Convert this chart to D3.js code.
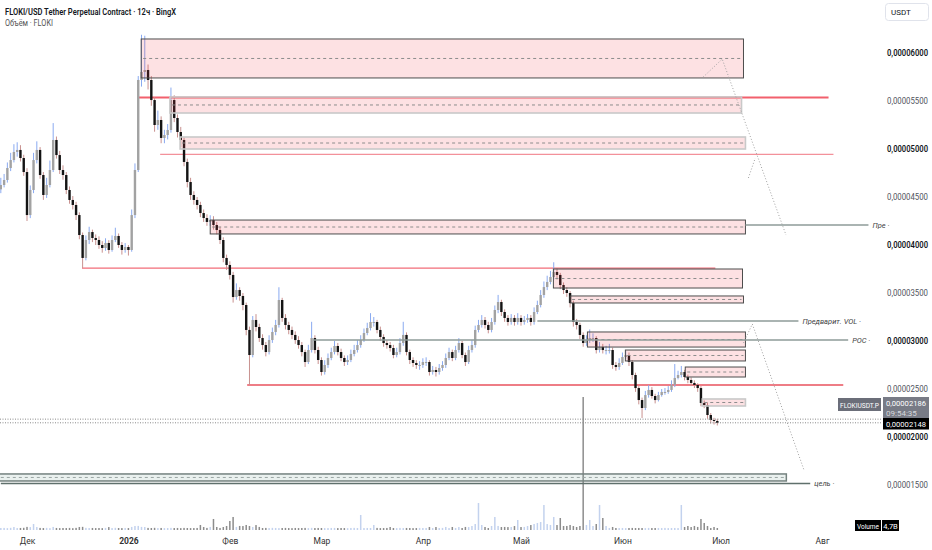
<!DOCTYPE html>
<html>
<head>
<meta charset="utf-8">
<script src="https://cdnjs.cloudflare.com/ajax/libs/d3/7.8.5/d3.min.js"></script>
<style>
  body { margin: 0; background: #fff; }
  text { font-family: Roboto, "DejaVu Sans", sans-serif; }
</style>
</head>
<body>
<div id="chart"></div>
<script>
// Define SVG area dimensions
var svgWidth = 932;
var svgHeight = 550;
var plotRight = 880;

// Daily candles starting 23 Nov 2025, prices in units of 1e-8 USDT
var firstDay = new Date(2025, 10, 23);
var firstOpen = 4580;

var closes = [
  4625,4677,4802,4885,4969,4990,4906,4760,4312,4573,
  4885,4990,4729,4521,4625,4781,5094,4937,4781,4729,
  4573,4469,4417,4312,4104,3865,4052,4135,4073,4052,
  4000,3969,4021,3948,4052,4094,4000,3948,3979,3948,
  4312,4781,5719,5802,5823,5719,5510,5250,5302,5115,
  5146,5198,5510,5323,5177,5094,4865,4656,4521,4469,
  4417,4333,4281,4240,4260,4208,4156,4052,3865,3792,
  3688,3458,3531,3469,3375,3115,2854,3219,3146,3031,
  2958,2885,3010,3094,3167,3427,3240,3167,3115,3063,
  3010,2958,2885,2781,2906,3031,2906,2802,2677,2750,
  2823,2885,2948,2885,2823,2781,2802,2865,2906,2958,
  3010,3083,3135,3198,3198,3115,3042,2979,2958,2927,
  2854,2885,2979,3063,2885,2802,2771,2750,2750,2781,
  2781,2677,2698,2677,2719,2750,2823,2885,2823,2906,
  2979,2854,2781,2906,2958,3115,3167,3219,3167,3115,
  3198,3323,3406,3302,3240,3198,3240,3198,3240,3198,
  3219,3240,3198,3302,3375,3479,3562,3615,3667,3719,
  3688,3583,3531,3500,3396,3198,3167,3063,2979,3010,
  3031,3031,2906,2938,2906,2906,2906,2750,2729,2771,
  2833,2854,2781,2646,2510,2385,2302,2437,2490,2427,
  2385,2437,2469,2469,2490,2542,2615,2646,2677,2625,
  2594,2563,2542,2510,2354,2333,2229,2177,2167,2148
];

var highs = [
  4700,4740,4860,4960,5050,5070,5040,4940,4800,4620,
  4960,5080,5020,4760,4700,4880,5270,5130,4980,4830,
  4760,4610,4510,4450,4340,4130,4100,4190,4160,4110,
  4090,4040,4070,4050,4100,4180,4120,4030,4020,4000,
  4370,4850,5760,6190,6180,5880,5760,5540,5400,5340,
  5200,5260,5640,5560,5360,5230,5120,4900,4700,4560,
  4500,4450,4370,4320,4310,4300,4240,4190,4080,3900,
  3830,3720,3600,3560,3500,3400,3150,3260,3280,3180,
  3070,2990,3060,3140,3220,3560,3450,3280,3200,3150,
  3100,3050,2990,2910,2960,3200,3060,2940,2830,2800,
  2870,2930,3000,2980,2920,2850,2850,2910,2960,3010,
  3060,3130,3190,3290,3250,3220,3150,3070,3010,2990,
  2960,2930,3030,3200,3090,2910,2830,2800,2790,2820,
  2830,2800,2740,2730,2760,2790,2870,2930,2910,2950,
  3030,3000,2880,2950,3010,3160,3220,3270,3250,3200,
  3240,3370,3480,3430,3330,3270,3280,3270,3290,3270,
  3260,3280,3270,3350,3420,3530,3620,3680,3730,3820,
  3760,3710,3610,3560,3520,3420,3230,3190,3090,3060,
  3120,3080,3050,2990,2970,2950,2970,2930,2780,2820,
  2880,2900,2880,2800,2670,2530,2410,2480,2540,2520,
  2450,2470,2500,2510,2530,2590,2760,2690,2740,2700,
  2650,2620,2590,2560,2530,2380,2360,2250,2200,2190
];

var lows = [
  4540,4600,4650,4770,4860,4920,4870,4720,4250,4280,
  4540,4850,4690,4470,4490,4600,4760,4900,4740,4680,
  4530,4430,4370,4260,4060,3760,3840,4010,4030,4000,
  3960,3920,3940,3910,3930,4030,3970,3900,3920,3890,
  3930,4280,4760,5650,5700,5620,5450,5180,5200,5060,
  5060,5100,5170,5280,5120,5020,4820,4600,4470,4420,
  4370,4290,4240,4200,4200,4160,4110,4010,3820,3740,
  3640,3400,3430,3420,3320,3060,2542,2830,3100,2990,
  2910,2840,2860,2980,3060,3140,3200,3120,3070,3020,
  2970,2920,2840,2730,2760,2880,2870,2760,2640,2650,
  2720,2800,2860,2850,2790,2740,2750,2780,2840,2880,
  2930,2990,3060,3110,3150,3080,3000,2940,2920,2890,
  2820,2830,2860,2950,2850,2760,2730,2710,2700,2720,
  2740,2640,2650,2630,2650,2690,2720,2800,2790,2800,
  2880,2820,2740,2760,2880,2930,3090,3140,3130,3080,
  3090,3170,3290,3260,3200,3160,3170,3160,3170,3160,
  3170,3190,3160,3170,3280,3350,3450,3530,3590,3640,
  3640,3540,3490,3460,3350,3150,3120,3020,2940,2950,
  2980,2990,2870,2880,2870,2860,2870,2710,2690,2700,
  2750,2810,2740,2600,2470,2340,2198,2280,2410,2400,
  2350,2370,2420,2440,2450,2470,2520,2600,2620,2590,
  2560,2530,2510,2470,2320,2300,2190,2140,2130,2120
];

// Volume in billions of FLOKI
var volumes = [
  4.7,4.9,4.4,5.1,7.0,4.6,4.8,5.2,7.3,6.8,
  14.1,7.0,4.9,4.6,5.0,4.4,7.2,4.8,4.5,4.7,
  4.6,4.9,4.3,5.0,7.1,7.4,5.0,4.6,4.8,4.5,
  4.7,4.4,4.9,6.9,4.6,5.1,4.7,4.5,4.8,4.6,
  7.2,9.4,9.6,7.3,7.0,4.9,4.7,5.1,4.6,4.8,
  4.5,4.7,5.0,4.6,4.8,4.4,4.9,4.7,4.5,4.6,
  4.8,11.8,7.0,4.9,7.2,25.9,7.1,4.8,7.0,9.4,
  21.2,30.6,7.3,9.5,9.3,11.8,9.4,7.1,11.6,7.2,
  4.7,4.9,4.6,5.0,4.8,4.5,4.7,4.9,4.6,4.4,
  4.8,4.6,4.7,4.9,4.5,5.0,4.6,4.8,4.7,4.5,
  4.6,4.8,4.9,4.5,4.7,4.6,4.4,4.8,5.0,4.7,
  35.3,4.6,4.8,4.7,11.8,4.9,4.5,4.6,4.8,7.0,
  4.7,4.5,4.9,4.6,4.8,4.7,4.4,4.6,4.9,4.7,
  4.8,7.1,4.6,7.0,4.7,4.9,7.2,4.6,7.1,4.8,
  7.0,4.7,7.2,6.9,9.4,14.1,63.5,11.8,7.1,4.7,
  9.4,30.6,9.5,7.0,7.2,6.9,7.1,9.3,23.5,7.0,
  7.2,9.4,11.7,14.1,16.5,18.8,58.8,14.0,11.8,30.6,
  11.7,28.2,9.4,9.5,11.8,9.3,7.1,9.4,312.6,11.8,
  23.5,9.4,14.1,58.8,28.2,9.4,4.8,7.1,4.7,4.6,
  4.8,4.5,4.7,4.9,4.6,4.8,4.7,4.5,4.9,4.6,
  4.7,4.8,4.6,4.9,4.5,4.7,4.8,4.6,58.8,7.1,
  9.4,7.0,9.5,7.2,25.9,16.5,9.4,4.6,7.1,4.7
];

// Axis ticks
var priceTicks = [1500, 2000, 2500, 3000, 3500, 4000, 4500, 5000, 5500, 6000];
var monthTicks = [
  new Date(2025, 11, 1), new Date(2026, 0, 1), new Date(2026, 1, 1),
  new Date(2026, 2, 1), new Date(2026, 3, 1), new Date(2026, 4, 1),
  new Date(2026, 5, 1), new Date(2026, 6, 1), new Date(2026, 7, 1)
];
var monthLabels = ["Дек", "2026", "Фев", "Мар", "Апр", "Май", "Июн", "Июл", "Авг"];

// Drawn zones: [from day, to day, top price, bottom price]
var darkZones = [
  [42.9, 227, 6146, 5740],
  [64, 227.6, 4260, 4115],
  [168.9, 226.7, 3750, 3552],
  [174, 227, 3469, 3396],
  [179.3, 227.6, 3094, 2937],
  [190.9, 227.6, 2906, 2792],
  [209.2, 227.6, 2729, 2625]
];
var paleZones = [
  [51.7, 226.4, 5542, 5375],
  [54.8, 227.6, 5125, 5000],
  [214.4, 227.6, 2396, 2323]
];
var targetZone = [0, 240.1, 1615, 1542];

// Red levels: [from day, to day, price]
var redLevels = [
  [42, 253, 5536],
  [48.7, 254.5, 4943],
  [24.8, 218.4, 3760],
  [75.3, 257.5, 2542]
];

// Labelled levels: [from day, to day, price]
var namedLevels = [
  [227.6, 265.2, 4208],
  [164, 243.8, 3208],
  [95.5, 259, 3010],
  [0, 247.4, 1516]
];
var namedLabels = ["Пре", "Предварит. VOL", "POC", "цель"];

// Dotted projection paths: [day, price]
var projections = [
  [[214.7, 5750], [220.5, 5937], [240, 4104]],
  [[228.5, 4698], [230.6, 4906]],
  [[227, 2979], [229.7, 3177], [245.6, 1646]]
];

var lastPrice = 2148;
var markPrice = 2186;

function dayToDate(d) {
  return new Date(firstDay.getTime() + d * 86400000);
}

function fmtPrice(p) {
  return "0,0000" + String(Math.round(p)).padStart(4, "0");
}

// Build candle table
var candles = closes.map(function (c, i) {
  return {
    date: dayToDate(i),
    open: i === 0 ? firstOpen : closes[i - 1],
    high: highs[i],
    low: lows[i],
    close: c,
    volume: volumes[i]
  };
});

var svg = d3.select("#chart")
  .append("svg")
  .attr("width", svgWidth)
  .attr("height", svgHeight)
  .style("display", "block");

// Scales
var x = d3.scaleTime()
  .domain([new Date(2025, 11, 1), new Date(2026, 7, 1)])
  .range([27, 822]);

var y = d3.scaleLinear()
  .domain([1500, 6000])
  .range([485, 53]);

var yVol = d3.scaleLinear()
  .domain([0, d3.max(volumes)])
  .range([530, 397]);

function xd(d) { return x(dayToDate(d)); }

svg.append("clipPath").attr("id", "plot")
  .append("rect").attr("x", 0).attr("y", 0).attr("width", plotRight).attr("height", 532);

var plot = svg.append("g").attr("clip-path", "url(#plot)");

// Volume bars
plot.append("g")
  .selectAll("rect")
  .data(candles)
  .join("rect")
  .attr("x", d => x(d.date) - 0.75)
  .attr("width", 1.5)
  .attr("y", d => yVol(d.volume))
  .attr("height", d => yVol(0) - yVol(d.volume))
  .attr("fill", d => d.close >= d.open ? "#c3d2ee" : "#8d8d8d");

// Target zone at the bottom
var tz = plot.append("g");
tz.append("rect")
  .attr("x", xd(targetZone[0]) - 2)
  .attr("y", y(targetZone[2]))
  .attr("width", xd(targetZone[1]) - xd(targetZone[0]) + 2)
  .attr("height", y(targetZone[3]) - y(targetZone[2]))
  .attr("fill", "rgba(90,150,135,0.13)")
  .attr("stroke", "#74827f")
  .attr("stroke-width", 1.5);
tz.append("line")
  .attr("x1", xd(targetZone[0]))
  .attr("x2", xd(targetZone[1]))
  .attr("y1", y((targetZone[2] + targetZone[3]) / 2))
  .attr("y2", y((targetZone[2] + targetZone[3]) / 2))
  .attr("stroke", "#9aa5a3")
  .attr("stroke-dasharray", "3,3");

// Red horizontal levels
var redWidths = [2, 1.2, 1.2, 1.6];
var redColors = ["#f2606d", "#f3919a", "#f26d78", "#e9525e"];
plot.append("g")
  .selectAll("line")
  .data(redLevels)
  .join("line")
  .attr("x1", d => xd(d[0]))
  .attr("x2", d => xd(d[1]))
  .attr("y1", d => y(d[2]))
  .attr("y2", d => y(d[2]))
  .attr("stroke", (d, i) => redColors[i])
  .attr("stroke-width", (d, i) => redWidths[i]);

// Gray labelled levels
var named = svg.append("g");
named.selectAll("line")
  .data(namedLevels)
  .join("line")
  .attr("x1", d => xd(d[0]))
  .attr("x2", d => xd(d[1]))
  .attr("y1", d => y(d[2]))
  .attr("y2", d => y(d[2]))
  .attr("stroke", (d, i) => i === 3 ? "#5f706c" : "#8e9b99")
  .attr("stroke-width", 1.4);
named.selectAll("text")
  .data(namedLevels)
  .join("text")
  .attr("x", d => xd(d[1]) + 4)
  .attr("y", d => y(d[2]) + 3)
  .attr("font-size", "7.5px")
  .attr("font-style", "italic")
  .attr("fill", "#444")
  .text((d, i) => namedLabels[i] + " ·");

// Candles: wicks then bodies
plot.append("g")
  .selectAll("line")
  .data(candles)
  .join("line")
  .attr("x1", d => x(d.date))
  .attr("x2", d => x(d.date))
  .attr("y1", d => y(d.high))
  .attr("y2", d => y(d.low))
  .attr("stroke", d => d.close >= d.open ? "#8aaaf0" : "#c8918f")
  .attr("stroke-width", 1);

plot.append("g")
  .selectAll("rect")
  .data(candles)
  .join("rect")
  .attr("x", d => x(d.date) - 1.2)
  .attr("width", 2.4)
  .attr("y", d => y(Math.max(d.open, d.close)))
  .attr("height", d => Math.max(1, Math.abs(y(d.open) - y(d.close))))
  .attr("fill", d => d.close >= d.open ? "#a2a2a2" : "#141414");

// Supply zones over the candles
function drawZones(list, stroke, width) {
  var g = plot.append("g");
  g.selectAll("rect")
    .data(list)
    .join("rect")
    .attr("x", d => xd(d[0]))
    .attr("y", d => y(d[2]))
    .attr("width", d => xd(d[1]) - xd(d[0]))
    .attr("height", d => y(d[3]) - y(d[2]))
    .attr("fill", "rgba(242,54,69,0.15)")
    .attr("stroke", stroke)
    .attr("stroke-width", width);
  g.selectAll("line")
    .data(list)
    .join("line")
    .attr("x1", d => xd(d[0]) + 2)
    .attr("x2", d => xd(d[1]) - 2)
    .attr("y1", d => y((d[2] + d[3]) / 2))
    .attr("y2", d => y((d[2] + d[3]) / 2))
    .attr("stroke", "#8c8c8c")
    .attr("stroke-dasharray", "3,3");
}
drawZones(paleZones, "#c9c9c9", 1.6);
drawZones(darkZones, "#4d4d4d", 1);

// Dotted projections
var projLine = d3.line()
  .x(d => xd(d[0]))
  .y(d => y(d[1]));
plot.append("g")
  .selectAll("path")
  .data(projections)
  .join("path")
  .attr("d", projLine)
  .attr("fill", "none")
  .attr("stroke", "#a3a3a3")
  .attr("stroke-width", 1)
  .attr("stroke-dasharray", "1,2");

// Current price dotted lines
svg.append("g")
  .selectAll("line")
  .data([markPrice, lastPrice])
  .join("line")
  .attr("x1", 0)
  .attr("x2", plotRight + 2)
  .attr("y1", d => y(d))
  .attr("y2", d => y(d))
  .attr("stroke", "#8a8a8a")
  .attr("stroke-dasharray", "1,1.5");

// Price axis
var priceAxis = svg.append("g")
  .attr("transform", "translate(885,0)")
  .call(d3.axisRight(y).tickValues(priceTicks).tickSize(0).tickFormat(fmtPrice));
priceAxis.select(".domain").remove();
priceAxis.selectAll("text")
  .attr("x", 2)
  .attr("font-size", "8.3px")
  .attr("font-family", "Roboto, sans-serif")
  .attr("textLength", 41)
  .attr("lengthAdjust", "spacingAndGlyphs")
  .attr("font-weight", d => d % 1000 === 0 ? 600 : 400)
  .attr("fill", d => d % 1000 === 0 ? "#131722" : "#50535e");

// Time axis
var timeAxis = svg.append("g")
  .attr("transform", "translate(0,532)")
  .call(d3.axisBottom(x).tickValues(monthTicks).tickSize(0)
    .tickFormat((d, i) => monthLabels[i]));
timeAxis.select(".domain").remove();
timeAxis.selectAll("text")
  .attr("y", 6)
  .attr("font-size", "8.5px")
  .attr("font-family", "Roboto, sans-serif")
  .attr("font-weight", (d, i) => monthLabels[i] === "2026" ? 700 : 400)
  .attr("fill", "#333");

// Price tags on the right
var tags = svg.append("g").attr("font-size", "8px");
tags.append("rect").attr("x", 838).attr("y", 398).attr("width", 43).attr("height", 13).attr("fill", "#6b6e79");
tags.append("text").attr("x", 840).attr("y", 407.8).attr("fill", "#fff")
  .attr("textLength", 39).attr("lengthAdjust", "spacingAndGlyphs").text("FLOKIUSDT.P");
tags.append("rect").attr("x", 883).attr("y", 397).attr("width", 46).attr("height", 21).attr("fill", "#787b86");
tags.append("text").attr("x", 886).attr("y", 406).attr("fill", "#fff")
  .attr("textLength", 40).attr("lengthAdjust", "spacingAndGlyphs").text(fmtPrice(markPrice));
tags.append("text").attr("x", 886).attr("y", 415.5).attr("fill", "#d6d7db").text("09:54:35");
tags.append("rect").attr("x", 883).attr("y", 418).attr("width", 46).attr("height", 11.5).attr("fill", "#000");
tags.append("text").attr("x", 886).attr("y", 426.8).attr("fill", "#fff")
  .attr("textLength", 40).attr("lengthAdjust", "spacingAndGlyphs").text(fmtPrice(lastPrice));

// Volume legend
var vol = svg.append("g").attr("font-size", "7.5px").attr("fill", "#fff");
vol.append("rect").attr("x", 855).attr("y", 520).attr("width", 26).attr("height", 11).attr("fill", "#000");
vol.append("text").attr("x", 857).attr("y", 528.5)
  .attr("textLength", 22).attr("lengthAdjust", "spacingAndGlyphs").text("Volume");
vol.append("rect").attr("x", 882).attr("y", 520).attr("width", 17).attr("height", 11).attr("fill", "#000");
vol.append("text").attr("x", 890.5).attr("y", 528.5).attr("text-anchor", "middle")
  .text(String(volumes[volumes.length - 1]).replace(".", ",") + "B");

// Currency button
svg.append("rect").attr("x", 885.5).attr("y", 3.5).attr("width", 43).attr("height", 17).attr("rx", 3)
  .attr("fill", "#fff").attr("stroke", "#e0e3eb");
svg.append("text").attr("x", 891).attr("y", 15).attr("font-size", "8px").attr("fill", "#131722").text("USDT");

// Header
svg.append("text").attr("x", 5).attr("y", 15).attr("font-size", "9.5px").attr("font-weight", 600)
  .attr("textLength", 171).attr("lengthAdjust", "spacingAndGlyphs")
  .attr("fill", "#131722").text("FLOKI/USD Tether Perpetual Contract · 12ч · BingX");
svg.append("text").attr("x", 5).attr("y", 26).attr("font-size", "9px")
  .attr("textLength", 48).attr("lengthAdjust", "spacingAndGlyphs")
  .attr("fill", "#555").text("Объём · FLOKI");
</script>
</body>
</html>
